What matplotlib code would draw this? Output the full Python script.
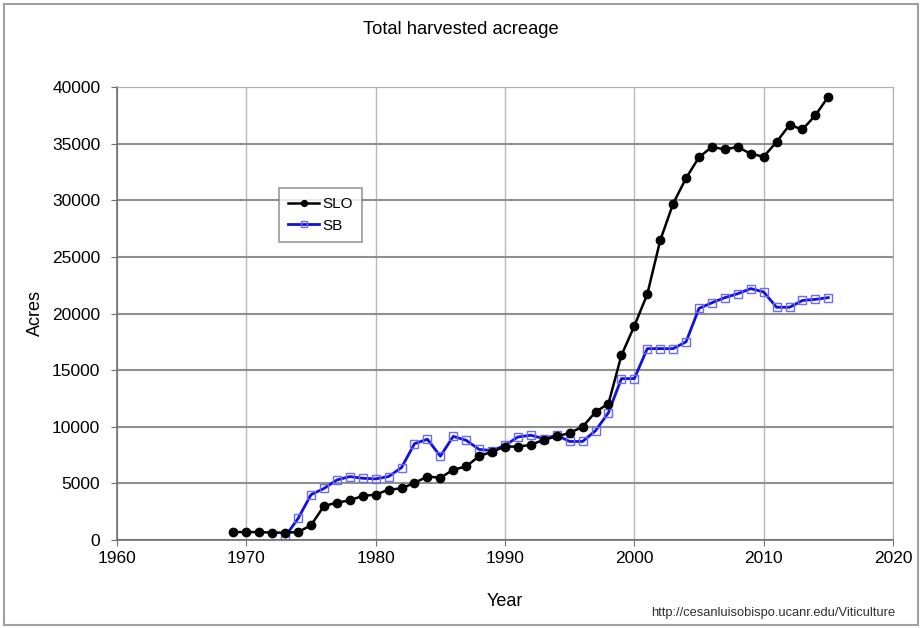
import numpy as np
import matplotlib.pyplot as plt
from matplotlib.patches import Rectangle

plt.rcParams['font.family'] = ['Liberation Sans', 'DejaVu Sans']

# data
slo_years = np.arange(1969, 2016)
slo = [700, 700, 700, 650, 650, 700, 1300, 3000, 3300, 3500,
       3900, 4000, 4450, 4550, 5050, 5600, 5500, 6200, 6500, 7400,
       7800, 8250, 8250, 8400, 8850, 9150, 9450, 10000, 11300, 12050,
       16300, 18900, 21700, 26450, 29700, 31950, 33800, 34700, 34500, 34700,
       34100, 33850, 35150, 36650, 36250, 37500, 39150]

sb_years = np.arange(1973, 2016)
sb = [300, 1900, 4000, 4550, 5300, 5600, 5450, 5400, 5600, 6400,
      8500, 8900, 7400, 9150, 8800, 8000, 7900, 8350, 9100, 9250,
      8950, 9250, 8700, 8700, 9650, 11250, 14250, 14250, 16900, 16900,
      16900, 17500, 20450, 20950, 21400, 21750, 22200, 21900, 20550, 20550,
      21150, 21250, 21400]

fig = plt.figure(figsize=(9.22, 6.28), dpi=100)
# outer frame of the chart
fig.patches.append(Rectangle((4/922, 3/628), 914/922, 621/628, transform=fig.transFigure,
                             fill=False, edgecolor='#a0a0a0', linewidth=1.5))

ax = fig.add_axes([117/922, 88/628, 776/922, 453/628])

ax.plot(slo_years, slo, color='black', lw=1.8, marker='o', ms=6, label='SLO', zorder=3)
ax.plot(sb_years, sb, color='#1010e0', lw=2.0, marker='s', ms=5.5, mfc='none',
        mec='#6a6aff', mew=1.0, label='SB', zorder=2)

ax.set_xlim(1960, 2020)
ax.set_ylim(0, 40000)
ax.set_xticks(np.arange(1960, 2021, 10))
ax.set_yticks(np.arange(0, 40001, 5000))
ax.grid(axis='y', color='#909090', lw=1.5)
ax.grid(axis='x', color='#b8b8b8', lw=1.0)
ax.set_axisbelow(True)
for s in ['top', 'right']:
    ax.spines[s].set_color('#b0b0b0')
for s in ['left', 'bottom']:
    ax.spines[s].set_color('#707070')
    ax.spines[s].set_linewidth(1.2)
ax.tick_params(labelsize=12.5, length=4, color='#707070')
ax.tick_params(axis='y', pad=8)
ax.tick_params(axis='x', pad=4)

fig.text(0.5, 1 - 29/628, 'Total harvested acreage', ha='center', va='center', fontsize=13.2)
ax.set_xlabel('Year', fontsize=13, labelpad=19)
ax.set_ylabel('Acres', fontsize=13, labelpad=6)

leg = ax.legend(loc='upper left', bbox_to_anchor=(0.209, 0.777), borderaxespad=0,
                fontsize=11, frameon=True, fancybox=False, handlelength=2.0,
                handletextpad=0.2, borderpad=0.6, labelspacing=0.5, markerscale=0.7)
leg.get_frame().set_edgecolor('#808080')
leg.get_frame().set_linewidth(1.2)

fig.text(895/922, 1 - 613/628, 'http://cesanluisobispo.ucanr.edu/Viticulture',
         ha='right', va='center', fontsize=9.3, color='#303030')

fig.savefig('out.png', dpi=100)
